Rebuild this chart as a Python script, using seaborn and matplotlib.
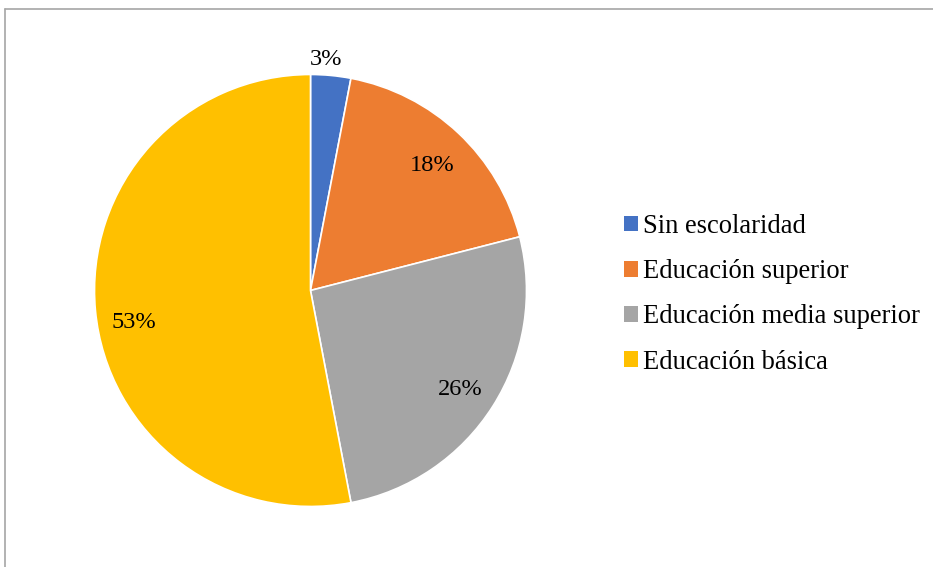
import matplotlib
matplotlib.use("Agg")
import matplotlib.pyplot as plt
from matplotlib.patches import Patch
from matplotlib.lines import Line2D
import seaborn as sns

categories = ["Sin escolaridad", "Educación superior", "Educación media superior", "Educación básica"]
percentages = [3, 18, 26, 53]
colors = ["#4472C4", "#ED7D31", "#A5A5A5", "#FFC000"]

sns.set_theme(style="white")
plt.rcParams["font.family"] = ["Liberation Serif", "DejaVu Serif"]
plt.rcParams["text.color"] = "black"

fig = plt.figure(figsize=(9.33, 5.67), dpi=100)
ax = fig.add_axes([0.1013, 0.1067, 0.463, 0.762])

wedges, texts = ax.pie(
    percentages,
    colors=colors,
    startangle=90,
    counterclock=False,
    radius=1.0,
    labels=[f"{v}%" for v in percentages],
    labeldistance=0.82,
    wedgeprops=dict(edgecolor="white", linewidth=1.2),
    textprops=dict(fontsize=17.6, color="black"),
)
for t in texts:
    t.set_ha("center")
    t.set_va("center")
    x, y = t.get_position()
    t.set_position((x, y - 0.02))
# the smallest slice gets its label outside the pie
texts[0].set_position((0.07, 1.07))
# the largest slice's label sits a little lower along its arc
x53, y53 = texts[3].get_position()
texts[3].set_position((x53, y53 - 0.05))

ax.set_xlim(-1, 1)
ax.set_ylim(-1, 1)
ax.set_aspect("equal")
ax.axis("off")

handles = [Patch(facecolor=c, edgecolor="none") for c in colors]
leg = fig.legend(
    handles, categories,
    loc="center left",
    bbox_to_anchor=(0.669, 0.481),
    frameon=False,
    fontsize=19.1,
    handlelength=0.52,
    handleheight=0.52,
    handletextpad=0.2,
    labelspacing=0.76,
    borderaxespad=0,
    borderpad=0,
)
for t in leg.get_texts():
    t.set_color("black")

# chart area frame (top and left edges visible)
frame_color = "#A6A6A6"
fig.add_artist(Line2D([4.5 / 933, 1.0], [1 - 9 / 567, 1 - 9 / 567], transform=fig.transFigure, color=frame_color, lw=1.2))
fig.add_artist(Line2D([4.5 / 933, 4.5 / 933], [0, 1 - 9 / 567], transform=fig.transFigure, color=frame_color, lw=1.2))

fig.savefig("out.png", dpi=100, facecolor="white")
